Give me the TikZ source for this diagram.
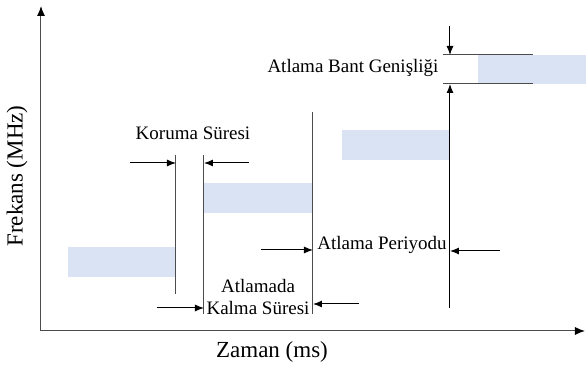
\documentclass[tikz,border=0pt]{standalone}
\usepackage{fontspec}
\setmainfont{Liberation Serif}
\usetikzlibrary{shapes,arrows,arrows.meta}
\definecolor{bandblue}{RGB}{218,227,243}
\tikzstyle{band} = [rectangle, fill=bandblue, draw=none, inner sep=0pt, minimum
    width=54pt, minimum height=15pt]
\tikzstyle{line} = [draw, line width=0.5pt, -{Latex[length=4.5pt,width=3.5pt]}]
\tikzstyle{axis} = [draw=black!70, line width=0.5pt, -{Latex[length=5pt,width=4pt,color=black]}]
\tikzstyle{guide} = [draw=black!70, line width=0.5pt]
\tikzstyle{lbl} = [text centered, inner sep=0pt, font=\fontsize{9.5}{11}\selectfont]
\tikzstyle{axislbl} = [inner sep=0pt, font=\fontsize{11.5}{13}\selectfont]

\begin{document}
\begin{tikzpicture}[x=0.5pt,y=-0.5pt]
      \useasboundingbox (0,0) rectangle (586,369);
      \node [band] (hop1) at (122,262) {};
      \node [band] (hop2) at (258.5,198) {};
      \node [band] (hop3) at (396,145) {};
      \node [band, minimum height=14.5pt] (hop4) at (532,69.5) {};

      \coordinate (origin) at (41,331);
      \coordinate (ytop) at (41,6);
      \coordinate (xend) at (585,331);
      \path [axis] (origin) -- (ytop);
      \path [axis] (origin) -- (xend);
      \node [axislbl, rotate=90] (flbl) at (17,176) {Frekans (MHz)};
      \node [axislbl] (tlbl) at (272,352) {Zaman (ms)};

      \coordinate (g1t) at (176,155); \coordinate (g1b) at (176,294);
      \coordinate (g2t) at (204,155); \coordinate (g2b) at (204,314);
      \coordinate (g3t) at (313,112); \coordinate (g3b) at (313,314);
      \coordinate (w1l) at (443,55);  \coordinate (w1r) at (533,55);
      \coordinate (w2l) at (443,84);  \coordinate (w2r) at (533,84);
      \path [guide] (g1t) -- (g1b);
      \path [guide] (g2t) -- (g2b);
      \path [guide] (g3t) -- (g3b);
      \path [guide] (w1l) -- (w1r);
      \path [guide] (w2l) -- (w2r);

      \node [lbl] (koruma) at (193,133) {Koruma Süresi};
      \coordinate (k1) at (130,163); \coordinate (k1e) at (176,163);
      \coordinate (k2) at (249,163); \coordinate (k2e) at (204,163);
      \path [line] (k1) -- (k1e);
      \path [line] (k2) -- (k2e);

      \node [lbl, align=center] (kalma) at (258,297) {Atlamada\\Kalma Süresi};
      \coordinate (s1) at (157,308); \coordinate (s1e) at (204,308);
      \coordinate (s2) at (359,304); \coordinate (s2e) at (313,304);
      \path [line] (s1) -- (s1e);
      \path [line] (s2) -- (s2e);

      \node [lbl] (periyot) at (382,245) {Atlama Periyodu};
      \coordinate (p1) at (261,250); \coordinate (p1e) at (313,250);
      \coordinate (p2) at (500,251); \coordinate (p2e) at (450,251);
      \path [line] (p1) -- (p1e);
      \path [line] (p2) -- (p2e);

      \node [lbl] (bant) at (353,68) {Atlama Bant Genişliği};
      \coordinate (b1) at (450,26);  \coordinate (b1e) at (450,55);
      \coordinate (b2) at (450,308); \coordinate (b2e) at (450,84);
      \path [line] (b1) -- (b1e);
      \path [line] (b2) -- (b2e);
    \end{tikzpicture}
\end{document}
